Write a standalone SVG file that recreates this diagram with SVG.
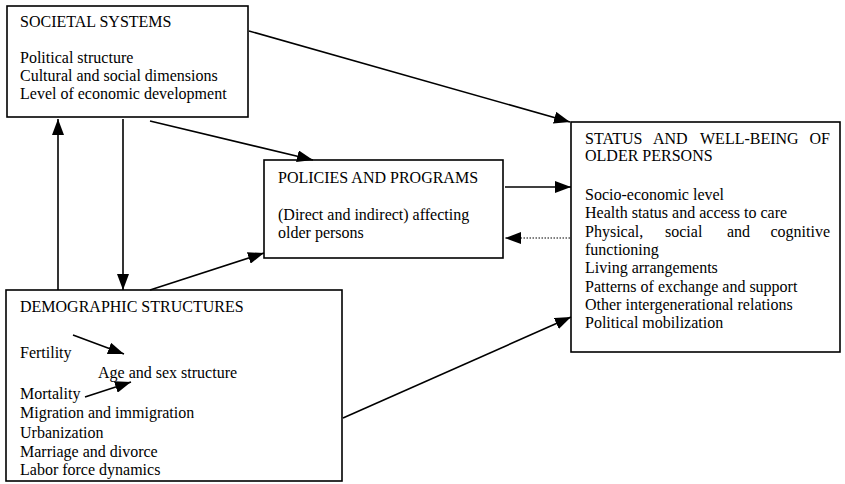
<svg xmlns="http://www.w3.org/2000/svg" width="845" height="484" viewBox="0 0 845 484">
<style>
  .box { fill: #ffffff; stroke: #000000; stroke-width: 1.6; }
  text { font-family: "Liberation Serif", "Times New Roman", serif; font-size: 16px; fill: #000000; }
  .conn { stroke: #000000; stroke-width: 1.6; fill: none; marker-end: url(#ah); }
  .dot { stroke: #000000; stroke-width: 1.2; stroke-dasharray: 1.5 1.5; fill: none; marker-end: url(#ah); }
</style>
<defs>
  <marker id="ah" markerWidth="16" markerHeight="12" refX="16" refY="6" orient="auto" markerUnits="userSpaceOnUse">
    <path d="M0,0 L16,6 L0,12 z" fill="#000000"/>
  </marker>
</defs>
<rect width="845" height="484" fill="#ffffff"/>

<g id="societal">
  <rect class="box" x="7" y="6" width="241" height="111"/>
  <text x="20" y="27">SOCIETAL SYSTEMS</text>
  <text x="20" y="63">Political structure</text>
  <text x="20" y="81">Cultural and social dimensions</text>
  <text x="20" y="99">Level of economic development</text>
</g>

<g id="policies">
  <rect class="box" x="264" y="160" width="239" height="98"/>
  <text x="278" y="183">POLICIES AND PROGRAMS</text>
  <text x="278" y="220">(Direct and indirect) affecting</text>
  <text x="278" y="238">older persons</text>
</g>

<g id="status">
  <rect class="box" x="571" y="122" width="269" height="230"/>
  <text y="144"><tspan x="585">STATUS</tspan><tspan x="653">AND</tspan><tspan x="700">WELL-BEING</tspan><tspan x="830" text-anchor="end">OF</tspan></text>
  <text x="585" y="161">OLDER PERSONS</text>
  <text x="585" y="200">Socio-economic level</text>
  <text x="585" y="218">Health status and access to care</text>
  <text y="237"><tspan x="585">Physical,</tspan><tspan x="665">social</tspan><tspan x="727">and</tspan><tspan x="830" text-anchor="end">cognitive</tspan></text>
  <text x="585" y="255">functioning</text>
  <text x="585" y="273">Living arrangements</text>
  <text x="585" y="292">Patterns of exchange and support</text>
  <text x="585" y="310">Other intergenerational relations</text>
  <text x="585" y="328">Political mobilization</text>
</g>

<g id="demographic">
  <rect class="box" x="6" y="290" width="336" height="191"/>
  <text x="20" y="312">DEMOGRAPHIC STRUCTURES</text>
  <text x="20" y="358">Fertility</text>
  <text x="98" y="378">Age and sex structure</text>
  <text x="20" y="399">Mortality</text>
  <text x="20" y="418">Migration and immigration</text>
  <text x="20" y="438">Urbanization</text>
  <text x="20" y="457">Marriage and divorce</text>
  <text x="20" y="475">Labor force dynamics</text>
</g>

<g id="connectors">
  <line class="conn" x1="249" y1="31" x2="570" y2="122"/>
  <line class="conn" x1="150" y1="121" x2="313" y2="160"/>
  <line class="conn" x1="505" y1="187" x2="571" y2="187"/>
  <line class="dot" x1="570" y1="238" x2="505" y2="238"/>
  <line class="conn" x1="150" y1="290" x2="264" y2="253"/>
  <line class="conn" x1="343" y1="418" x2="571" y2="317"/>
  <line class="conn" x1="58" y1="290" x2="58" y2="119"/>
  <line class="conn" x1="123" y1="119" x2="123" y2="290"/>
  <line class="conn" x1="73" y1="335" x2="124" y2="354"/>
  <line class="conn" x1="85" y1="397" x2="131" y2="382"/>
</g>
</svg>
